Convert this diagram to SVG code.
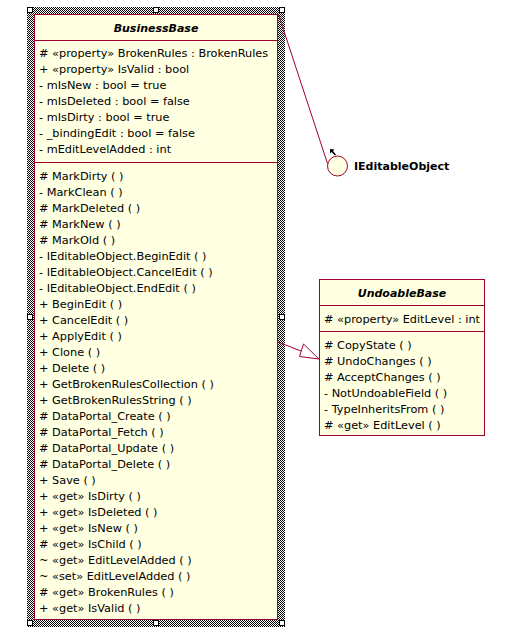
<svg xmlns="http://www.w3.org/2000/svg" width="521" height="640" viewBox="0 0 521 640">
<defs>
<pattern id="hatch" x="0" y="0" width="2" height="2" patternUnits="userSpaceOnUse">
<rect width="2" height="2" fill="#fff"/>
<rect x="0" y="0" width="1" height="1" fill="#000"/>
<rect x="1" y="1" width="1" height="1" fill="#000"/>
</pattern>
<style>
.box{fill:#FFFFE1;stroke:#A00030;stroke-width:1}
.sep{stroke:#A00030;stroke-width:1}
.t{font-family:"DejaVu Sans",Tahoma,sans-serif;font-size:11.3px;fill:#000}
.title{font-family:"DejaVu Sans",Tahoma,sans-serif;font-size:11px;font-weight:bold;font-style:italic;fill:#000;text-anchor:middle}
.lbl{font-family:"DejaVu Sans",Tahoma,sans-serif;font-size:11px;font-weight:bold;fill:#000}
.h{fill:#fff;stroke:#000;stroke-width:1}
.c{stroke:#A00030;stroke-width:1;fill:none}
</style>
</defs>
<rect width="521" height="640" fill="#fff"/>

<g id="BusinessBase">
<rect x="27" y="7" width="258" height="620" fill="url(#hatch)"/>
<rect class="box" x="34.5" y="14.5" width="243" height="605"/>
<line class="sep" x1="34" y1="40.5" x2="278" y2="40.5"/>
<line class="sep" x1="34" y1="162.5" x2="278" y2="162.5"/>
<text class="title" x="156" y="32">BusinessBase</text>
<g class="t">
<text x="39" y="57"># «property» BrokenRules : BrokenRules</text>
<text x="39" y="73">+ «property» IsValid : bool</text>
<text x="39" y="89">- mIsNew : bool = true</text>
<text x="39" y="105">- mIsDeleted : bool = false</text>
<text x="39" y="121">- mIsDirty : bool = true</text>
<text x="39" y="137">- _bindingEdit : bool = false</text>
<text x="39" y="153">- mEditLevelAdded : int</text>
<text x="39" y="180"># MarkDirty ( )</text>
<text x="39" y="196">- MarkClean ( )</text>
<text x="39" y="212"># MarkDeleted ( )</text>
<text x="39" y="228"># MarkNew ( )</text>
<text x="39" y="244"># MarkOld ( )</text>
<text x="39" y="260">- IEditableObject.BeginEdit ( )</text>
<text x="39" y="276">- IEditableObject.CancelEdit ( )</text>
<text x="39" y="292">- IEditableObject.EndEdit ( )</text>
<text x="39" y="308">+ BeginEdit ( )</text>
<text x="39" y="324">+ CancelEdit ( )</text>
<text x="39" y="340">+ ApplyEdit ( )</text>
<text x="39" y="356">+ Clone ( )</text>
<text x="39" y="372">+ Delete ( )</text>
<text x="39" y="388">+ GetBrokenRulesCollection ( )</text>
<text x="39" y="404">+ GetBrokenRulesString ( )</text>
<text x="39" y="420"># DataPortal_Create ( )</text>
<text x="39" y="436"># DataPortal_Fetch ( )</text>
<text x="39" y="452"># DataPortal_Update ( )</text>
<text x="39" y="468"># DataPortal_Delete ( )</text>
<text x="39" y="484">+ Save ( )</text>
<text x="39" y="500">+ «get» IsDirty ( )</text>
<text x="39" y="516">+ «get» IsDeleted ( )</text>
<text x="39" y="532">+ «get» IsNew ( )</text>
<text x="39" y="548"># «get» IsChild ( )</text>
<text x="39" y="564">~ «get» EditLevelAdded ( )</text>
<text x="39" y="580">~ «set» EditLevelAdded ( )</text>
<text x="39" y="596"># «get» BrokenRules ( )</text>
<text x="39" y="612">+ «get» IsValid ( )</text>
</g>
<rect class="h" x="27.5" y="7.5" width="5" height="5"/>
<rect class="h" x="153.5" y="7.5" width="5" height="5"/>
<rect class="h" x="279.5" y="7.5" width="5" height="5"/>
<rect class="h" x="27.5" y="314.5" width="5" height="5"/>
<rect class="h" x="279.5" y="314.5" width="5" height="5"/>
<rect class="h" x="27.5" y="620.5" width="5" height="5"/>
<rect class="h" x="153.5" y="620.5" width="5" height="5"/>
<rect class="h" x="279.5" y="620.5" width="5" height="5"/>
</g>

<g id="IEditableObject">
<circle class="box" cx="337.5" cy="166" r="10"/>
<text class="lbl" x="354" y="170">IEditableObject</text>
</g>

<g id="UndoableBase">
<rect class="box" x="319.5" y="279.5" width="165" height="156"/>
<line class="sep" x1="319" y1="305.5" x2="485" y2="305.5"/>
<line class="sep" x1="319" y1="331.5" x2="485" y2="331.5"/>
<text class="title" x="402" y="297">UndoableBase</text>
<g class="t">
<text x="324" y="323"># «property» EditLevel : int</text>
<text x="324" y="349"># CopyState ( )</text>
<text x="324" y="365"># UndoChanges ( )</text>
<text x="324" y="381"># AcceptChanges ( )</text>
<text x="324" y="397">- NotUndoableField ( )</text>
<text x="324" y="413">- TypeInheritsFrom ( )</text>
<text x="324" y="429"># «get» EditLevel ( )</text>
</g>
</g>

<g id="connectors">
<line class="c" x1="278.5" y1="14.5" x2="327.5" y2="163.5"/>
<path d="M330 149 L334.5 149.5 L333 151 L336 154.5 L335 155.5 L331.5 152 L330 153.5 Z" fill="#000"/>
<line class="c" x1="278" y1="342" x2="301" y2="351"/>
<polygon class="c" fill="#fff" points="319,359 299.5,356.5 303.5,344"/>
</g>
</svg>
